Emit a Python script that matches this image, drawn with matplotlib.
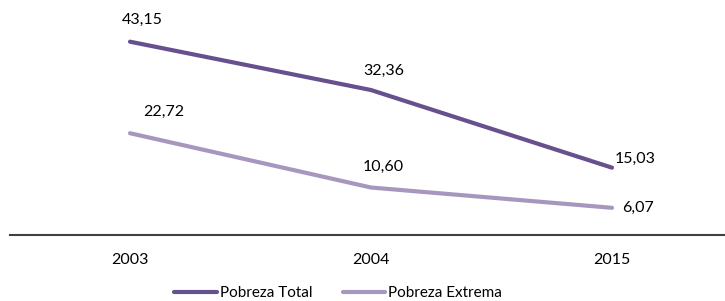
import matplotlib
matplotlib.use("Agg")
import matplotlib.pyplot as plt

years = ["2003", "2004", "2015"]
pobreza_total = [43.15, 32.36, 15.03]
pobreza_extrema = [22.72, 10.60, 6.07]
total_labels = ["43,15", "32,36", "15,03"]
extrema_labels = ["22,72", "10,60", "6,07"]

plt.rcParams['font.family'] = ['Lato', 'DejaVu Sans']

W, H = 725, 301
fig = plt.figure(figsize=(W/100, H/100), dpi=100)
ax = fig.add_axes([9.5/W, (H-235)/H, 723/W, (235-11)/H])

c_total = "#67508e"
c_ext = "#a797bf"
x = list(range(len(years)))
ax.plot(x, pobreza_total, color=c_total, lw=3.0, solid_capstyle='round', label="Pobreza Total")
ax.plot(x, pobreza_extrema, color=c_ext, lw=3.0, solid_capstyle='round', label="Pobreza Extrema")

fs = 11.5
tot_off = [(9, 16), (9, 14), (17, 6)]
ext_off = [(24, 15), (9, 15), (19, 0)]
for i in x:
    ax.annotate(total_labels[i], (i, pobreza_total[i]), xytext=tot_off[i], textcoords='offset points',
                ha='center', va='center', fontsize=fs, color='#000000')
    ax.annotate(extrema_labels[i], (i, pobreza_extrema[i]), xytext=ext_off[i], textcoords='offset points',
                ha='center', va='center', fontsize=fs, color='#000000')

ax.set_xlim(-0.5, 2.5)
ax.set_ylim(0, 50)
ax.set_xticks(x)
ax.set_xticklabels(years, fontsize=fs)
ax.tick_params(axis='x', length=0, pad=13)
ax.set_yticks([])
for s in ['top', 'right', 'left']:
    ax.spines[s].set_visible(False)
ax.spines['bottom'].set_color('#404040')
ax.spines['bottom'].set_linewidth(1.5)

fig.legend(loc='center', bbox_to_anchor=(338/W, 1-293/H), ncol=2, frameon=False,
           fontsize=11, handlelength=2.8, handletextpad=0.15, columnspacing=2.0)

fig.savefig("out.png", dpi=100)
